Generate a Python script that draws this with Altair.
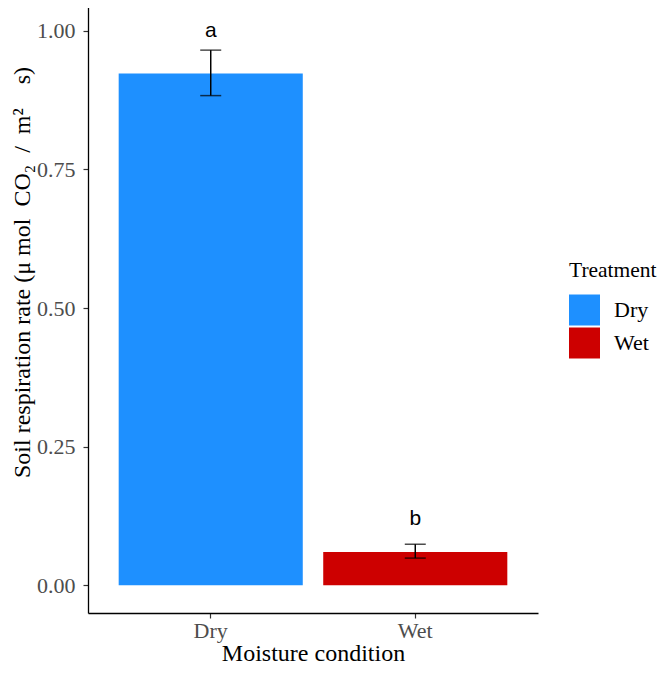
import altair as alt
import pandas as pd

conditions = ["Dry", "Wet"]
means = [0.923, 0.060]
err_low = [0.883, 0.049]
err_high = [0.965, 0.074]
letters = ["a", "b"]
letter_y = [1.0, 0.12]
colors = ["#1E90FF", "#CD0000"]
y_ticks = [0.0, 0.25, 0.50, 0.75, 1.00]
y_title = "Soil respiration rate (μ mol\u2002CO₂\u2002/\u2002m²\u2003s)"

df = pd.DataFrame({
    "Moisture": conditions,
    "Treatment": conditions,
    "mean": means,
    "lo": err_low,
    "hi": err_high,
    "letter": letters,
    "ly": letter_y,
})

serif = "Liberation Serif"
PLOT_H = 610

x_enc = alt.X(
    "Moisture:N",
    title="Moisture condition",
    sort=conditions,
    scale=alt.Scale(paddingInner=0.1, paddingOuter=0.15),
    axis=alt.Axis(labelAngle=0, labelFont=serif, labelFontSize=22, labelColor="#4D4D4D",
                  titleFont=serif, titleFontSize=24, titleFontWeight="normal", titleColor="black",
                  domainColor="black", domainWidth=1.3, tickColor="#333333", tickSize=5,
                  tickWidth=1.2, labelPadding=2, titlePadding=0, grid=False),
)

y_scale = alt.Scale(domain=[-0.05, 1.05], nice=False, zero=False)

base = alt.Chart(df)

bars = base.mark_bar().encode(
    x=x_enc,
    y=alt.Y("mean:Q", scale=y_scale,
            title=y_title,
            axis=alt.Axis(values=y_ticks, format=".2f", labelFont=serif, labelFontSize=22,
                          labelColor="#4D4D4D", titleFont=serif, titleFontSize=24,
                          titleFontWeight="normal", titleColor="black", domainColor="black",
                          domainWidth=1.3, tickColor="#333333", tickSize=5, tickWidth=1.2,
                          labelPadding=8, grid=False, titleAngle=-90, titleX=-66,
                          titleY=269, titleAlign="center", titleBaseline="middle")),
    y2=alt.datum(0),
    color=alt.Color("Treatment:N", scale=alt.Scale(domain=conditions, range=colors),
                    legend=alt.Legend(title="Treatment", orient="none", legendX=481, legendY=257,
                                      titleFont=serif, titleFontSize=21.5, titleFontWeight="normal",
                                      titleColor="black", labelFont=serif, labelFontSize=22,
                                      labelColor="black", symbolType="square", symbolSize=961,
                                      symbolStrokeWidth=0, symbolOpacity=1, labelOffset=14,
                                      titlePadding=13, rowPadding=2, titleLimit=200)),
)

rules = base.mark_rule(color="black", strokeWidth=1.5).encode(
    x="Moisture:N", y=alt.Y("lo:Q", scale=y_scale), y2="hi:Q")

cap_lo = base.mark_tick(color="black", thickness=1.5, size=21, orient="horizontal").encode(
    x="Moisture:N", y=alt.Y("lo:Q", scale=y_scale))
cap_hi = base.mark_tick(color="black", thickness=1.5, size=21, orient="horizontal").encode(
    x="Moisture:N", y=alt.Y("hi:Q", scale=y_scale))

labels = base.mark_text(font="Liberation Sans", fontSize=21, color="black", baseline="middle").encode(
    x="Moisture:N", y=alt.Y("ly:Q", scale=y_scale), text="letter:N")

chart = alt.layer(bars, rules, cap_lo, cap_hi, labels).properties(
    width=450, height=PLOT_H,
    background="white",
    autosize=alt.AutoSizeParams(type="none"),
    padding={"left": 80, "top": -5, "right": 119, "bottom": 52},
).configure_view(strokeWidth=0, stroke="transparent")

chart.save("out.html", embed_options={"renderer": "svg", "actions": False})
